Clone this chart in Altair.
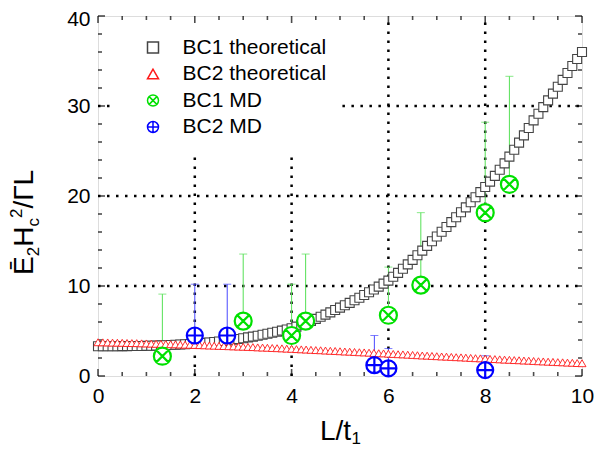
import altair as alt
import pandas as pd

# ---------------- data ----------------
x_theory = [
    0.0, 0.1, 0.2, 0.3, 0.4, 0.5, 0.6, 0.7, 0.8, 0.9,
    1.0, 1.1, 1.2, 1.3, 1.4, 1.5, 1.6, 1.7, 1.8, 1.9,
    2.0, 2.1, 2.2, 2.3, 2.4, 2.5, 2.6, 2.7, 2.8, 2.9,
    3.0, 3.1, 3.2, 3.3, 3.4, 3.5, 3.6, 3.7, 3.8, 3.9,
    4.0, 4.1, 4.2, 4.3, 4.4, 4.5, 4.6, 4.7, 4.8, 4.9,
    5.0, 5.1, 5.2, 5.3, 5.4, 5.5, 5.6, 5.7, 5.8, 5.9,
    6.0, 6.1, 6.2, 6.3, 6.4, 6.5, 6.6, 6.7, 6.8, 6.9,
    7.0, 7.1, 7.2, 7.3, 7.4, 7.5, 7.6, 7.7, 7.8, 7.9,
    8.0, 8.1, 8.2, 8.3, 8.4, 8.5, 8.6, 8.7, 8.8, 8.9,
    9.0, 9.1, 9.2, 9.3, 9.4, 9.5, 9.6, 9.7, 9.8, 9.9,
    10.0,
]
bc1_theory = [
    3.30, 3.30, 3.30, 3.31, 3.31, 3.32, 3.32, 3.33, 3.33, 3.34,
    3.35, 3.36, 3.38, 3.40, 3.42, 3.44, 3.47, 3.50, 3.53, 3.56,
    3.60, 3.64, 3.68, 3.73, 3.78, 3.83, 3.89, 3.95, 4.02, 4.11,
    4.20, 4.29, 4.38, 4.48, 4.58, 4.69, 4.80, 4.92, 5.04, 5.17,
    5.30, 5.49, 5.69, 5.90, 6.12, 6.35, 6.58, 6.82, 7.07, 7.33,
    7.60, 7.86, 8.13, 8.41, 8.70, 9.00, 9.30, 9.61, 9.93, 10.26,
    10.60, 11.02, 11.46, 11.92, 12.40, 12.90, 13.41, 13.93, 14.46, 14.98,
    15.50, 16.03, 16.56, 17.10, 17.64, 18.19, 18.74, 19.30, 19.86, 20.43,
    21.00, 21.60, 22.24, 22.92, 23.63, 24.37, 25.14, 25.93, 26.74, 27.56,
    28.40, 29.14, 29.88, 30.63, 31.38, 32.14, 32.90, 33.67, 34.44, 35.22,
    36.00,
]
bc2_theory = [
    3.75, 3.74, 3.73, 3.71, 3.70, 3.69, 3.67, 3.66, 3.65, 3.63,
    3.62, 3.60, 3.58, 3.57, 3.55, 3.53, 3.52, 3.50, 3.48, 3.47,
    3.45, 3.43, 3.41, 3.39, 3.37, 3.35, 3.33, 3.31, 3.29, 3.27,
    3.25, 3.23, 3.21, 3.18, 3.16, 3.14, 3.11, 3.09, 3.07, 3.04,
    3.02, 2.99, 2.96, 2.94, 2.91, 2.88, 2.86, 2.83, 2.80, 2.78,
    2.75, 2.72, 2.70, 2.67, 2.64, 2.62, 2.59, 2.56, 2.53, 2.51,
    2.48, 2.45, 2.42, 2.40, 2.37, 2.34, 2.31, 2.28, 2.26, 2.23,
    2.20, 2.17, 2.15, 2.12, 2.09, 2.07, 2.04, 2.01, 1.98, 1.96,
    1.93, 1.90, 1.88, 1.85, 1.82, 1.80, 1.77, 1.75, 1.72, 1.70,
    1.67, 1.64, 1.62, 1.59, 1.57, 1.54, 1.52, 1.49, 1.47, 1.44,
    1.42,
]

md1_x = [1.33, 3.0, 4.0, 4.29, 6.0, 6.67, 8.0, 8.5]
md1_y = [2.2, 6.1, 4.5, 6.1, 6.75, 10.1, 18.15, 21.3]
md1_top = [9.1, 13.55, 10.2, 13.55, 12.1, 18.15, 28.2, 33.3]

md2_x = [2.0, 2.67, 5.71, 6.0, 8.0]
md2_y = [4.5, 4.5, 1.2, 0.85, 0.66]
md2_top = [10.2, 10.2, 4.5, 3.05, 2.25]

series_names = ["BC1 theoretical", "BC2 theoretical", "BC1 MD", "BC2 MD"]

# dotted reference lines
grid_v_x = [2, 4, 6, 8]
grid_v_top = [25, 25, 40, 40]
grid_h_y = [10, 20, 30, 30]
grid_h_from = [0, 0, 0, 5.05]
grid_h_to = [10, 10, 0.35, 10]

x_major = [0, 2, 4, 6, 8, 10]
x_minor = [0.5, 1, 1.5, 2.5, 3, 3.5, 4.5, 5, 5.5, 6.5, 7, 7.5, 8.5, 9, 9.5]
y_major = [0, 10, 20, 30, 40]
y_minor = [2, 4, 6, 8, 12, 14, 16, 18, 22, 24, 26, 28, 32, 34, 36, 38]

# ---------------- styling ----------------
FONT = "Liberation Sans"
series_colors = ["#444444", "#ff1a1a", "#00e000", "#0000ff"]
CIRCLE_X = "M1,0A1,1,0,1,1,-1,0A1,1,0,1,1,1,0ZM-0.7,-0.7L0.7,0.7M-0.7,0.7L0.7,-0.7"
CIRCLE_PLUS = "M1,0A1,1,0,1,1,-1,0A1,1,0,1,1,1,0ZM-1,0L1,0M0,-1L0,1"
series_shapes = ["square", "triangle-up", CIRCLE_X, CIRCLE_PLUS]

W, H = 484, 360

xscale = alt.Scale(domain=[0, 10], nice=False, zero=False)
yscale = alt.Scale(domain=[0, 40], nice=False, zero=False)
xaxis = alt.Axis(values=x_major, ticks=False, domain=False, grid=False,
                 labelFontSize=21, labelFont=FONT, labelColor="black",
                 labelPadding=9, labelFlush=False, format="d")
yaxis = alt.Axis(values=y_major, ticks=False, domain=False, grid=False,
                 labelFontSize=21, labelFont=FONT, labelColor="black",
                 labelPadding=8, labelFlush=False, format="d",
                 labelOffset={"condition": {"test": "datum.value == 40", "value": 3}, "value": 0})


def X(field):
    return alt.X(field, type="quantitative", scale=xscale, axis=xaxis, title=None)


def Y(field):
    return alt.Y(field, type="quantitative", scale=yscale, axis=yaxis, title=None)


legend = alt.Legend(orient="none", legendX=44.5, legendY=21, title=None,
                    symbolSize=121, symbolStrokeWidth=1.5,
                    labelFontSize=21, labelFont=FONT, labelColor="black",
                    labelOffset=19, rowPadding=4.5, padding=0,
                    symbolFillColor="white")
color_enc = alt.Color("series:N", scale=alt.Scale(domain=series_names, range=series_colors),
                      legend=legend)
shape_enc = alt.Shape("series:N", scale=alt.Scale(domain=series_names, range=series_shapes),
                      legend=legend)

# ---------------- tables ----------------
th1 = pd.DataFrame({"x": x_theory, "y": bc1_theory, "series": series_names[0]})
th2 = pd.DataFrame({"x": x_theory, "y": bc2_theory, "series": series_names[1]})
md1 = pd.DataFrame({"x": md1_x, "y": md1_y, "top": md1_top, "series": series_names[2]})
md2 = pd.DataFrame({"x": md2_x, "y": md2_y, "top": md2_top, "series": series_names[3]})
gv = pd.DataFrame({"x": grid_v_x, "y0": [0] * len(grid_v_x), "y1": grid_v_top})
gh = pd.DataFrame({"y": grid_h_y, "x0": grid_h_from, "x1": grid_h_to})

layers = []

dot = dict(color="black", strokeWidth=2.5, strokeDash=[2.5, 6.5])
layers.append(alt.Chart(gv).mark_rule(**dot).encode(x=X("x"), y=Y("y0"), y2="y1"))
layers.append(alt.Chart(gh).mark_rule(**dot).encode(y=Y("y"), x=X("x0"), x2="x1"))

# axis ticks (inward)
xmaj = pd.DataFrame({"v": x_major})
xmin = pd.DataFrame({"v": x_minor})
ymaj = pd.DataFrame({"v": y_major})
ymin = pd.DataFrame({"v": y_minor})
for df, L in [(xmaj, 7), (xmin, 4)]:
    layers.append(alt.Chart(df).mark_tick(orient="vertical", size=L, thickness=1.6, color="black",
                                          yOffset=-L / 2).encode(x=X("v"), y=alt.datum(0)))
    layers.append(alt.Chart(df).mark_tick(orient="vertical", size=L, thickness=1.6, color="black",
                                          yOffset=L / 2).encode(x=X("v"), y=alt.datum(40)))
for df, L in [(ymaj, 7), (ymin, 4)]:
    layers.append(alt.Chart(df).mark_tick(orient="horizontal", size=L, thickness=1.6, color="black",
                                          xOffset=L / 2).encode(y=Y("v"), x=alt.datum(0)))
    layers.append(alt.Chart(df).mark_tick(orient="horizontal", size=L, thickness=1.6, color="black",
                                          xOffset=-L / 2).encode(y=Y("v"), x=alt.datum(10)))

# error bars
layers.append(alt.Chart(md1).mark_rule(color="#55e055", strokeWidth=1).encode(x=X("x"), y=Y("y"), y2="top"))
layers.append(alt.Chart(md1).mark_tick(orient="horizontal", size=8, thickness=1, color="#55e055")
              .encode(x=X("x"), y=Y("top")))
layers.append(alt.Chart(md2).mark_rule(color="#4848ff", strokeWidth=1).encode(x=X("x"), y=Y("y"), y2="top"))
layers.append(alt.Chart(md2).mark_tick(orient="horizontal", size=8, thickness=1, color="#4848ff")
              .encode(x=X("x"), y=Y("top")))

# theoretical curves (hollow symbols with white interior, drawn in order)
layers.append(alt.Chart(th1).mark_point(filled=False, fill="white", size=81, strokeWidth=1.1, opacity=1)
              .encode(x=X("x"), y=Y("y"), color=color_enc, shape=shape_enc))
layers.append(alt.Chart(th2).mark_point(filled=False, fill="white", size=64, strokeWidth=0.9, opacity=1)
              .encode(x=X("x"), y=Y("y"), color=color_enc, shape=shape_enc))

# MD points
layers.append(alt.Chart(md1).mark_point(filled=False, fill="white", size=289, strokeWidth=2.2, opacity=1)
              .encode(x=X("x"), y=Y("y"), color=color_enc, shape=shape_enc))
layers.append(alt.Chart(md2).mark_point(filled=False, fill="white", size=256, strokeWidth=2.2, opacity=1)
              .encode(x=X("x"), y=Y("y"), color=color_enc, shape=shape_enc))

# axis titles built from pieces (rotated y title, x title with subscript)
one = pd.DataFrame({"t": ["a"]})
ytitle_pieces = [("Ē", 28, 0, 0), ("2", 17, 18.7, 6), ("H", 28, 28.2, 0),
                 ("c", 17, 48.4, 6), ("2", 17, 56.9, -11), ("/ΓL", 28, 66.4, 0)]
for txt, fs, ddx, ddy in ytitle_pieces:
    layers.append(alt.Chart(one).mark_text(angle=270, align="left", baseline="alphabetic",
                                           font=FONT, fontSize=fs, color="black", dx=ddx, dy=ddy)
                  .encode(x=alt.value(-65), y=alt.value(259), text=alt.value(txt)))
xtitle_pieces = [("L/t", 28, 0, 0), ("1", 17, 31.5, 4)]
for txt, fs, ddx, ddy in xtitle_pieces:
    layers.append(alt.Chart(one).mark_text(align="left", baseline="alphabetic",
                                           font=FONT, fontSize=fs, color="black", dx=ddx, dy=ddy)
                  .encode(x=alt.value(222), y=alt.value(424), text=alt.value(txt)))

chart = alt.layer(*layers).properties(
    width=W, height=H,
    autosize=alt.AutoSizeParams(type="none"),
    padding={"left": 90, "top": 8, "right": 15, "bottom": 75},
).configure_view(stroke="black", strokeWidth=2).configure(background="white")

chart.save("out.html", embed_options={"renderer": "svg", "actions": False})
